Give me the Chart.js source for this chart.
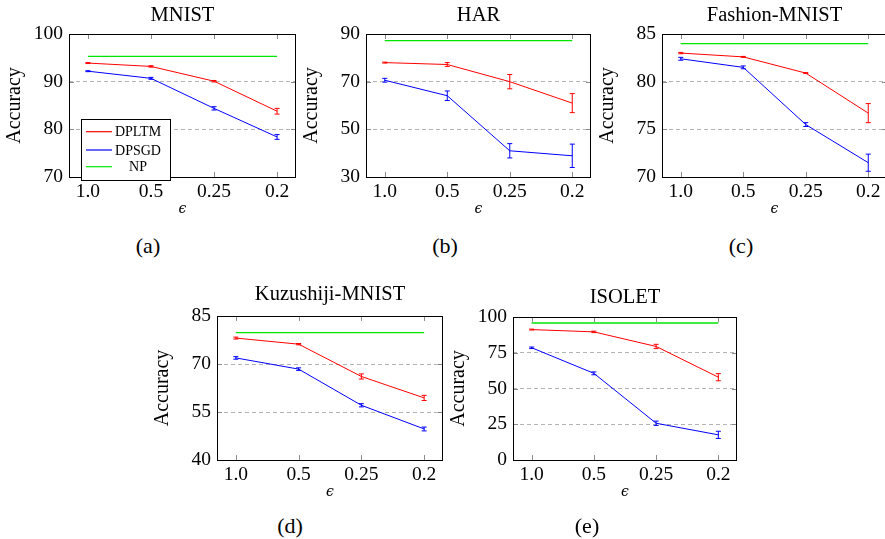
<!DOCTYPE html>
<html>
<head>
<meta charset="utf-8">
<script src="https://cdn.jsdelivr.net/npm/chart.js@4"></script>
<style>
  html, body { margin: 0; padding: 0; background: #fff; overflow: hidden; }
  body { width: 885px; height: 539px; position: relative; }
  canvas { position: absolute; }
  .cap {
    position: absolute;
    font-family: "Liberation Serif", serif;
    font-size: 22px;
    line-height: 22px;
    transform: translateX(-50%);
    color: #000;
  }
</style>
</head>
<body>
<canvas id="chartA"></canvas>
<canvas id="chartB"></canvas>
<canvas id="chartC"></canvas>
<canvas id="chartD"></canvas>
<canvas id="chartE"></canvas>
<div class="cap" style="left:148px; top:235px">(a)</div>
<div class="cap" style="left:445px; top:235px">(b)</div>
<div class="cap" style="left:741px; top:235px">(c)</div>
<div class="cap" style="left:290px; top:515px">(d)</div>
<div class="cap" style="left:587px; top:515px">(e)</div>
<script>
// x categories (privacy budget)
const epsLabels = ["1.0", "0.5", "0.25", "0.2"];

// MNIST
const mnistTicks = [70, 80, 90, 100];
const mnistDpltm = [93.9, 93.2, 90.1, 83.8];
const mnistDpltmErr = [0.1, 0.15, 0.15, 0.6];
const mnistDpsgd = [92.2, 90.7, 84.4, 78.4];
const mnistDpsgdErr = [0.1, 0.2, 0.35, 0.5];
const mnistNp = [95.3, 95.3, 95.3, 95.3];

// HAR
const harTicks = [30, 50, 70, 90];
const harDpltm = [78.0, 77.2, 70.0, 61.0];
const harDpltmErr = [0.2, 0.8, 3.0, 4.0];
const harDpsgd = [70.6, 64.1, 41.0, 38.9];
const harDpsgdErr = [0.8, 2.0, 3.0, 4.9];
const harNp = [87.2, 87.2, 87.2, 87.2];

// Fashion-MNIST
const fashionTicks = [70, 75, 80, 85];
const fashionDpltm = [83.0, 82.6, 80.9, 76.7];
const fashionDpltmErr = [0.07, 0.05, 0.05, 1.0];
const fashionDpsgd = [82.4, 81.5, 75.5, 71.5];
const fashionDpsgdErr = [0.15, 0.15, 0.2, 0.9];
const fashionNp = [84.0, 84.0, 84.0, 84.0];

// Kuzushiji-MNIST
const kuzuTicks = [40, 55, 70, 85];
const kuzuDpltm = [78.1, 76.2, 66.1, 59.4];
const kuzuDpltmErr = [0.3, 0.2, 0.8, 0.8];
const kuzuDpsgd = [71.9, 68.4, 57.1, 49.7];
const kuzuDpsgdErr = [0.4, 0.4, 0.5, 0.6];
const kuzuNp = [79.8, 79.8, 79.8, 79.8];

// ISOLET
const isoletTicks = [0, 25, 50, 75, 100];
const isoletDpltm = [91.2, 89.6, 79.4, 57.9];
const isoletDpltmErr = [0.3, 0.5, 1.5, 2.5];
const isoletDpsgd = [78.5, 60.6, 25.7, 17.6];
const isoletDpsgdErr = [0.5, 1.0, 1.5, 2.5];
const isoletNp = [95.8, 95.8, 95.8, 95.8];

const seriesColors = {
  dpltm: "#ff0000",
  dpsgd: "#0000ff",
  np: "#00e600",
};

const serif = '"Liberation Serif", serif';
Chart.defaults.font.family = serif;
Chart.defaults.color = "#000";

// box draws: inner ticks, error bars, frame, title and legend (pgfplots look)
const pgfPlugin = {
  id: "pgf",
  beforeDatasetsDraw(chart) {
    const { ctx, chartArea: a, scales: { x, y } } = chart;
    ctx.save();
    ctx.strokeStyle = "#8a8a8a";
    ctx.lineWidth = 1;
    ctx.beginPath();
    x.ticks.forEach((t) => {
      const px = Math.round(x.getPixelForValue(t.value)) + 0.5;
      ctx.moveTo(px, a.top);
      ctx.lineTo(px, a.top + 5);
      ctx.moveTo(px, a.bottom);
      ctx.lineTo(px, a.bottom - 5);
    });
    y.ticks.forEach((t) => {
      const py = Math.round(y.getPixelForValue(t.value)) + 0.5;
      ctx.moveTo(a.left, py);
      ctx.lineTo(a.left + 5, py);
      ctx.moveTo(a.right, py);
      ctx.lineTo(a.right - 5, py);
    });
    ctx.stroke();
    ctx.restore();
  },
  afterDatasetsDraw(chart) {
    const { ctx, scales: { x, y } } = chart;
    ctx.save();
    chart.data.datasets.forEach((ds) => {
      if (!ds.errorBars) return;
      ctx.strokeStyle = ds.borderColor;
      ctx.lineWidth = 1;
      ds.data.forEach((p, i) => {
        const e = ds.errorBars[i];
        const px = x.getPixelForValue(p.x);
        const top = y.getPixelForValue(p.y + e);
        const bot = y.getPixelForValue(p.y - e);
        ctx.beginPath();
        ctx.moveTo(px, top);
        ctx.lineTo(px, bot);
        ctx.moveTo(px - 2.5, top);
        ctx.lineTo(px + 2.5, top);
        ctx.moveTo(px - 2.5, bot);
        ctx.lineTo(px + 2.5, bot);
        ctx.stroke();
      });
    });
    ctx.restore();
  },
  afterDraw(chart, args, opts) {
    const { ctx, chartArea: a } = chart;
    ctx.save();
    // frame
    ctx.strokeStyle = "#000";
    ctx.lineWidth = 1;
    ctx.strokeRect(Math.round(a.left) + 0.5, Math.round(a.top) + 0.5,
      Math.round(a.right - a.left) - 1, Math.round(a.bottom - a.top));
    // title
    ctx.fillStyle = "#000";
    ctx.font = "20.5px " + serif;
    ctx.textAlign = "center";
    ctx.textBaseline = "alphabetic";
    ctx.fillText(opts.title, (a.left + a.right) / 2, a.top - opts.titleGap);
    // legend (only on first panel)
    if (opts.legend) {
      const lx = a.left + 12;
      const ly = a.top + 85;
      ctx.fillStyle = "#fff";
      ctx.fillRect(lx, ly, 89, 61);
      ctx.strokeRect(lx + 0.5, ly + 0.5, 89, 61);
      const rows = [12.7, 31, 47.7];
      ctx.font = "14px " + serif;
      ctx.textBaseline = "middle";
      chart.data.datasets.forEach((ds, i) => {
        const ry = ly + rows[i];
        ctx.strokeStyle = ds.borderColor;
        ctx.lineWidth = 1.2;
        ctx.beginPath();
        ctx.moveTo(lx + 5, ry);
        ctx.lineTo(lx + 31, ry);
        ctx.stroke();
        ctx.fillStyle = "#000";
        ctx.fillText(ds.label, lx + 57, ry + 1);
      });
    }
    ctx.restore();
  },
};

function toPoints(values) {
  return values.map((v, i) => ({ x: i, y: v }));
}

// one panel: box = [left, top, right, bottom] of the plot frame on the page
function makePanel(canvasId, title, box, ticks, dpltm, dpltmErr, dpsgd, dpsgdErr, np, extra) {
  const [bl, bt, br, bb] = box;
  const canvas = document.getElementById(canvasId);
  canvas.width = br - bl + 76;
  canvas.height = bb - bt + 78;
  canvas.style.left = bl - 72 + "px";
  canvas.style.top = bt - 34 + "px";
  const yMin = ticks[0];
  const yMax = ticks[ticks.length - 1];

  return new Chart(canvas.getContext("2d"), {
    type: "line",
    data: {
      datasets: [
        {
          label: "DPLTM",
          data: toPoints(dpltm),
          errorBars: dpltmErr,
          borderColor: seriesColors.dpltm,
          borderWidth: 1,
          pointRadius: 0,
          tension: 0,
        },
        {
          label: "DPSGD",
          data: toPoints(dpsgd),
          errorBars: dpsgdErr,
          borderColor: seriesColors.dpsgd,
          borderWidth: 1,
          pointRadius: 0,
          tension: 0,
        },
        {
          label: "NP",
          data: toPoints(np),
          borderColor: seriesColors.np,
          borderWidth: 1.3,
          pointRadius: 0,
          tension: 0,
        },
      ],
    },
    options: {
      responsive: false,
      animation: false,
      devicePixelRatio: 1,
      layout: { padding: { left: 0, top: 34, right: 4, bottom: 0 } },
      plugins: {
        legend: { display: false },
        tooltip: { enabled: false },
        pgf: { title: title, titleGap: extra.titleGap, legend: extra.legend },
      },
      scales: {
        x: {
          type: "linear",
          min: -0.3,
          max: 3.3,
          afterBuildTicks: (s) => {
            s.ticks = epsLabels.map((_, i) => ({ value: i }));
          },
          afterFit: (s) => {
            s.height = 44;
          },
          grid: { display: false, drawTicks: false },
          border: { display: false },
          ticks: {
            padding: 3,
            color: "#000",
            font: { family: serif, size: 19.5 },
            maxRotation: 0,
            autoSkip: false,
            callback: (v) => epsLabels[v],
          },
          title: {
            display: true,
            text: "ϵ",
            color: "#000",
            font: { family: '"DejaVu Serif", serif', size: 14, style: "italic" },
            padding: { top: 0, bottom: 3 },
          },
        },
        y: {
          min: yMin,
          max: yMax,
          afterBuildTicks: (s) => {
            s.ticks = ticks.map((v) => ({ value: v }));
          },
          afterFit: (s) => {
            s.width = 72;
          },
          grid: {
            drawTicks: false,
            color: (c) =>
              c.tick && c.tick.value > yMin && c.tick.value < yMax
                ? "#b4b4b4"
                : "rgba(0,0,0,0)",
          },
          border: { display: false, dash: [4, 3] },
          ticks: {
            padding: 6,
            color: "#000",
            font: { family: serif, size: 19.5 },
          },
          title: {
            display: true,
            text: "Accuracy",
            color: "#000",
            font: { family: serif, size: 20 },
            padding: { top: 6, bottom: 0 },
          },
        },
      },
    },
    plugins: [pgfPlugin],
  });
}

makePanel("chartA", "MNIST", [69, 34, 296, 177], mnistTicks,
  mnistDpltm, mnistDpltmErr, mnistDpsgd, mnistDpsgdErr, mnistNp,
  { titleGap: 13, legend: true });
makePanel("chartB", "HAR", [366, 34, 591, 177], harTicks,
  harDpltm, harDpltmErr, harDpsgd, harDpsgdErr, harNp,
  { titleGap: 13, legend: false });
makePanel("chartC", "Fashion-MNIST", [662, 34, 887, 177], fashionTicks,
  fashionDpltm, fashionDpltmErr, fashionDpsgd, fashionDpsgdErr, fashionNp,
  { titleGap: 13, legend: false });
makePanel("chartD", "Kuzushiji-MNIST", [217, 316, 443, 460], kuzuTicks,
  kuzuDpltm, kuzuDpltmErr, kuzuDpsgd, kuzuDpsgdErr, kuzuNp,
  { titleGap: 16, legend: false });
makePanel("chartE", "ISOLET", [513, 317, 737, 460], isoletTicks,
  isoletDpltm, isoletDpltmErr, isoletDpsgd, isoletDpsgdErr, isoletNp,
  { titleGap: 14, legend: false });
</script>
</body>
</html>
